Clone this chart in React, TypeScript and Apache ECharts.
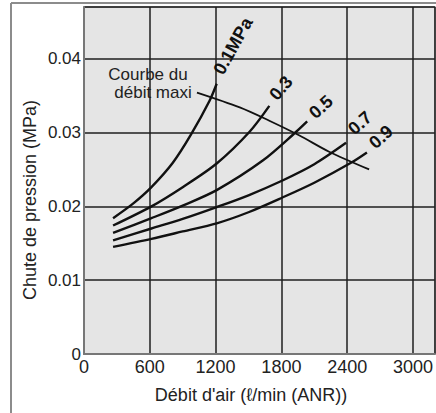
import React, { useEffect, useRef } from "react";
import * as echarts from "echarts";

// Flow (l/min ANR) vs pressure drop (MPa), one curve per inlet pressure
const curveLabels = ["0.1MPa", "0.3", "0.5", "0.7", "0.9"];
const curve01 = [[265, 0.0184], [450, 0.0204], [615, 0.0226], [810, 0.0259], [975, 0.0297], [1145, 0.0343], [1210, 0.0366]];
const curve03 = [[265, 0.0174], [615, 0.02], [900, 0.0226], [1210, 0.0258], [1510, 0.0301], [1690, 0.0336]];
const curve05 = [[265, 0.0164], [615, 0.0184], [900, 0.0201], [1210, 0.0222], [1630, 0.0262], [1935, 0.0301], [2035, 0.0315]];
const curve07 = [[265, 0.0154], [615, 0.017], [900, 0.0183], [1210, 0.0199], [1500, 0.0215], [1810, 0.0235], [2100, 0.0257], [2390, 0.0286]];
const curve09 = [[265, 0.0145], [615, 0.0156], [900, 0.0166], [1210, 0.0177], [1500, 0.0192], [1810, 0.0212], [2100, 0.0232], [2435, 0.0259], [2580, 0.0273]];
const maxFlowCurve = [[1030, 0.0354], [1420, 0.0334], [1690, 0.0316], [1965, 0.0296], [2235, 0.0274], [2600, 0.025]];

const xMin = 0;
const xMax = 3200;
const xInterval = 600;
const yMin = 0;
const yMax = 0.047;
const yInterval = 0.01;

const xName = "Débit d'air (ℓ/min (ANR))";
const yName = "Chute de pression (MPa)";
const maxCurveText = ["Courbe du", "débit maxi"];

const FONT = "Liberation Sans, Arial, Helvetica, sans-serif";

export default function App() {
  const ref = useRef<HTMLDivElement>(null);
  useEffect(() => {
    if (!ref.current) return;
    const chart = echarts.init(ref.current, null, { renderer: "svg" });
    const curves = [curve01, curve03, curve05, curve07, curve09];
    const labelPos = [
      { x: 233, y: 46, r: 61 },
      { x: 281, y: 88, r: 50 },
      { x: 321, y: 107, r: 42 },
      { x: 360, y: 123, r: 42 },
      { x: 381, y: 137, r: 42 },
    ];
    chart.setOption({
      animation: false,
      backgroundColor: "#ffffff",
      grid: {
        left: 84,
        right: 0,
        top: 7,
        bottom: 59,
        show: true,
        backgroundColor: "#e5e5e5",
        borderColor: "#8a8a8a",
        borderWidth: 1.5,
      },
      xAxis: {
        type: "value",
        min: xMin,
        max: xMax,
        interval: xInterval,
        axisLine: { show: true, lineStyle: { color: "#777", width: 2 } },
        axisTick: { show: false },
        splitLine: { show: true, lineStyle: { color: "#1e1e1e", width: 1.5 } },
        axisLabel: {
          showMaxLabel: false,
          margin: 4,
          color: "#222",
          fontSize: 18,
          fontFamily: FONT,
          formatter: (v: number) => String(v),
        },
      },
      yAxis: {
        type: "value",
        min: yMin,
        max: yMax,
        interval: yInterval,
        axisLine: { show: true, lineStyle: { color: "#777", width: 2 } },
        axisTick: { show: false },
        splitLine: { show: true, lineStyle: { color: "#1e1e1e", width: 1.5 } },
        axisLabel: {
          showMaxLabel: false,
          margin: 3,
          color: "#222",
          fontSize: 17,
          fontFamily: FONT,
          formatter: (v: number) => (v === 0 ? "0" : v.toFixed(2)),
        },
      },
      series: [
        ...curves.map((c, i) => ({
          type: "line",
          name: curveLabels[i],
          data: c,
          smooth: 0.3,
          showSymbol: false,
          symbol: "none",
          lineStyle: { color: "#111", width: 2.4 },
          z: 3,
        })),
        {
          type: "line",
          name: "max",
          data: maxFlowCurve,
          smooth: 0.3,
          showSymbol: false,
          symbol: "none",
          lineStyle: { color: "#111", width: 1.8 },
          z: 3,
        },
      ],
      graphic: [
        { type: "line", shape: { x1: 11, y1: 3, x2: 11, y2: 413 }, style: { stroke: "#8c8c8c", lineWidth: 2 } },
        { type: "line", shape: { x1: 11, y1: 3, x2: 436, y2: 3 }, style: { stroke: "#8c8c8c", lineWidth: 2 } },
        {
          type: "text",
          x: 251,
          y: 395,
          style: { text: xName, fontSize: 18, fontFamily: FONT, fill: "#222", align: "center", verticalAlign: "middle" },
        },
        {
          type: "text",
          x: 30,
          y: 200,
          rotation: Math.PI / 2,
          style: { text: yName, fontSize: 18, fontFamily: FONT, fill: "#222", align: "center", verticalAlign: "middle" },
        },
        {
          type: "text",
          x: 148,
          y: 74,
          style: { text: maxCurveText[0], fontSize: 17, fontFamily: FONT, fill: "#222", align: "center", verticalAlign: "middle" },
        },
        {
          type: "text",
          x: 153,
          y: 92,
          style: { text: maxCurveText[1], fontSize: 17, fontFamily: FONT, fill: "#222", align: "center", verticalAlign: "middle" },
        },
        ...labelPos.map((p, i) => ({
          type: "text",
          x: p.x,
          y: p.y,
          rotation: (p.r * Math.PI) / 180,
          z: 10,
          style: {
            text: curveLabels[i],
            fontSize: 18,
            fontWeight: "bold",
            fontFamily: FONT,
            fill: "#111",
            align: "center",
            verticalAlign: "middle",
          },
        })),
      ],
    });
    return () => chart.dispose();
  }, []);
  return (
    <div
      ref={ref}
      style={{ position: "fixed", left: 0, top: 0, width: 436, height: 413, background: "#fff" }}
    />
  );
}
